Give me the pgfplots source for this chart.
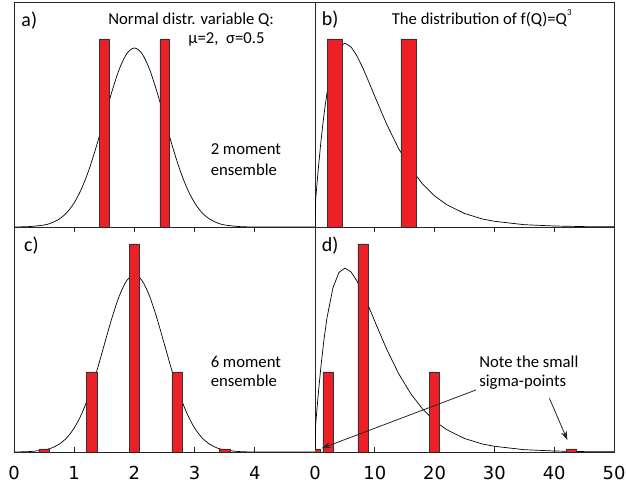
\documentclass[border=0pt]{standalone}
\usepackage{pgfplots}
\pgfplotsset{compat=1.18}
\usetikzlibrary{arrows.meta}
\usepackage{fontspec}
\setmainfont{DejaVu Sans}
\newfontfamily\anno{Carlito}
\definecolor{barred}{RGB}{236,32,39}
\newcommand{\af}{\anno\fontsize{16.75}{20.7}\selectfont}
\newcommand{\lf}{\anno\fontsize{20}{21}\selectfont}
\pgfplotsset{
  panel/.style={scale only axis, anchor=south west, ymin=0, ymax=225, ytick=\empty,
    axis line style={black!85, line width=0.8bp},
    /pgf/number format/assume math mode=true,
    tick label style={font=\fontsize{18}{20}\selectfont}},
  leftp/.style={panel, width=301bp, height=225bp, xmin=0, xmax=5},
  rightp/.style={panel, width=299bp, height=225bp, xmin=0, xmax=50},
  toprow/.style={xtick=\empty},
  botrow/.style={xtick pos=both, tick align=inside, major tick length=5bp,
    tick style={black!85, line width=0.8bp}, xticklabel style={yshift=-11bp}},
  curve/.style={black, line width=0.7bp, no marks},
  sbars/.style={ybar, fill=barred, draw=black!80, line width=0.5bp, bar shift=0pt},
  every node/.append style={text=black!80},
}
\begin{document}
\begin{tikzpicture}
\path[use as bounding box] (0,0) rectangle (626bp,487bp);
% ---- a)
\begin{axis}[leftp, toprow, at={(14bp,260bp)}]
\addplot[curve, smooth] coordinates {
(0,0.06) (0.25,0.4) (0.5,2.0) (0.625,4.1) (0.75,7.9) (0.875,14.2) (1,24.2) (1.125,38.7)
(1.25,58.1) (1.375,82.0) (1.5,108.6) (1.625,135.1) (1.75,158.0) (1.875,173.5) (2,179.0)
(2.125,173.5) (2.25,158.0) (2.375,135.1) (2.5,108.6) (2.625,82.0) (2.75,58.1) (2.875,38.7)
(3,24.2) (3.125,14.2) (3.25,7.9) (3.375,4.1) (3.5,2.0) (3.75,0.4) (4,0.06) (4.5,0) (5,0)};
\addplot[sbars, bar width=0.155] coordinates {(1.5,188) (2.5,188)};
\node[anchor=base west, font=\lf] at (axis cs:0.066,200.3) {a)};
\node[anchor=base west, font=\af] at (axis cs:1.51,202.7) {Normal distr. variable Q:};
\node[anchor=base west, font=\af] at (axis cs:2.84,183) {μ=2,\ \ σ=0.5};
\node[anchor=base west, font=\af] at (axis cs:3.21,72) {2 moment};
\node[anchor=base west, font=\af] at (axis cs:3.21,51.3) {ensemble};
\end{axis}
% ---- b)
\begin{axis}[rightp, toprow, at={(315bp,260bp)}]
\addplot[curve] coordinates {
(0,0) (0.1,26.4) (0.2,33.8) (0.5,55.0) (1,86.1) (1.5,112.4) (2,134.0) (3,164.1) (4,179.5)
(5,183.9) (6,180.2) (7,171.2) (8,159.0) (9,145.1) (10,130.6) (12,102.6) (14,78.2) (16,58.4)
(18,42.9) (20,31.1) (22,22.4) (25,13.5) (28,8.0) (30,5.7) (35,2.3) (40,1.0) (45,0.4) (50,0.16)};
\addplot[sbars, bar width=2.5] coordinates {(3.375,188) (15.625,188)};
\node[anchor=base west, font=\lf] at (axis cs:0.55,201) {b)};
\node[anchor=base west, font=\af] at (axis cs:12.26,202) {The distribution of f(Q)=Q\raisebox{1.2ex}{\fontsize{9}{9}\selectfont 3}};
\end{axis}
% ---- c)
\begin{axis}[leftp, botrow, at={(14bp,35bp)}, xtick={0,1,2,3,4}]
\addplot[curve, smooth] coordinates {
(0,0.06) (0.25,0.4) (0.5,2.0) (0.625,4.0) (0.75,7.8) (0.875,14.1) (1,24.0) (1.125,38.3)
(1.25,57.5) (1.375,81.0) (1.5,107.4) (1.625,133.6) (1.75,156.2) (1.875,171.6) (2,177.0)
(2.125,171.6) (2.25,156.2) (2.375,133.6) (2.5,107.4) (2.625,81.0) (2.75,57.5) (2.875,38.3)
(3,24.0) (3.125,14.1) (3.25,7.8) (3.375,4.0) (3.5,2.0) (3.75,0.4) (4,0.06) (4.5,0) (5,0)};
\addplot[sbars, bar width=0.177] coordinates {(0.5,3) (1.29,80) (2,208) (2.71,80) (3.5,3)};
\node[anchor=base west, font=\lf] at (axis cs:0.11,200) {c)};
\node[anchor=base west, font=\af] at (axis cs:3.21,84.3) {6 moment};
\node[anchor=base west, font=\af] at (axis cs:3.21,65.3) {ensemble};
\end{axis}
% ---- d)
\begin{axis}[rightp, botrow, at={(315bp,35bp)}, xtick={0,10,20,30,40,50}]
\addplot[curve] coordinates {
(0,0) (0.1,26.4) (0.2,33.8) (0.5,55.0) (1,86.1) (1.5,112.4) (2,134.0) (3,164.1) (4,179.5)
(5,183.9) (6,180.2) (7,171.2) (8,159.0) (9,145.1) (10,130.6) (12,102.6) (14,78.2) (16,58.4)
(18,42.9) (20,31.1) (22,22.4) (25,13.5) (28,8.0) (30,5.7) (35,2.3) (40,1.0) (45,0.4) (50,0.16)};
\addplot[sbars, bar width=1.67] coordinates {(0.125,3) (2.15,80) (8,208) (19.9,80) (42.875,3)};
\node[anchor=base west, font=\lf] at (axis cs:0.55,200) {d)};
\node[anchor=base west, font=\af] at (axis cs:26.9,84.7) {Note the small};
\node[anchor=base west, font=\af] at (axis cs:26.9,65.3) {sigma-points};
\draw[black!85, line width=0.8bp, -{Stealth[length=9bp, width=6bp]}] (axis cs:26.9,62) -- (axis cs:1.12,3.7);
\draw[black!85, line width=0.8bp, -{Stealth[length=9bp, width=6bp]}] (axis cs:39.2,53.7) -- (axis cs:42.2,12);
\end{axis}
\end{tikzpicture}
\end{document}
